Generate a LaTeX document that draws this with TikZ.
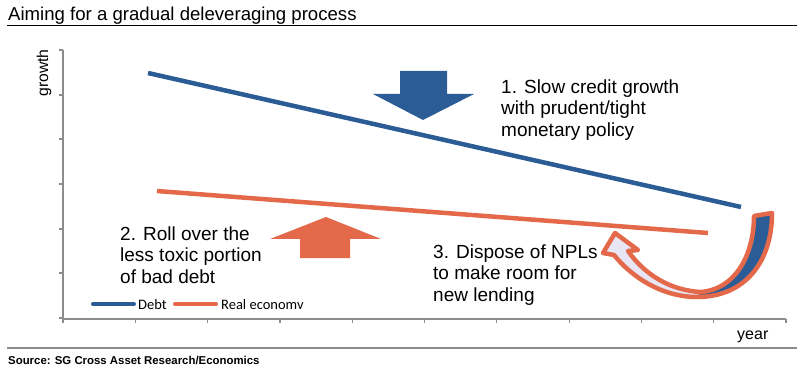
\documentclass[tikz,border=0pt]{standalone}
\usepackage{fontspec}
\setmainfont{Liberation Sans}
\newfontfamily\legendfont{Carlito}
\definecolor{debtblue}{HTML}{2B5C96}
\definecolor{realorange}{HTML}{E3694A}
\definecolor{paleviolet}{HTML}{E8E6F4}
\definecolor{axisgray}{HTML}{8C8C8C}
\begin{document}
\begin{tikzpicture}[x=1pt, y=-1pt,
  series/.style={line width=4.5pt},
  axisline/.style={draw=axisgray, line width=1.2pt},
  note/.style={anchor=north west, align=left, inner sep=0pt, font=\fontsize{19}{21.6}\selectfont},
  legendtext/.style={anchor=base west, inner sep=0pt, font=\legendfont\fontsize{14.5}{16}\selectfont}]
\useasboundingbox (0,0) rectangle (797,371);

\node [anchor=base west, inner sep=0pt, font=\fontsize{18.6}{20}\selectfont] (title) at (8,21) {Aiming for a gradual deleveraging process};
\draw [line width=1.8pt] (7,25.5) -- (797,25.5);

\draw [axisline] (63,50) -- (63,319) -- (786,319);
\foreach \ty in {50,95,139,184,229,273,318}
  \draw [axisline] (59,\ty) -- (63,\ty);
\foreach \k in {0,...,10}
  \draw [axisline] (63+72.3*\k,319) -- (63+72.3*\k,323);
\node [rotate=90, inner sep=0pt, font=\fontsize{15.7}{17}\selectfont] (ylabel) at (44,73) {growth};
\node [anchor=base west, inner sep=0pt, font=\fontsize{16}{18}\selectfont] (xlabel) at (737,339) {year};

\coordinate (debtstart) at (148,73);
\coordinate (debtend) at (741,207);
\coordinate (realstart) at (157,191);
\coordinate (realend) at (708,233);
\draw [series, debtblue] (debtstart) -- (debtend);
\draw [series, realorange] (realstart) -- (realend);

\fill [debtblue] (400,71) -- (447,71) -- (447,94) -- (474,94) -- (423,120) -- (373,94) -- (400,94) -- cycle;
\fill [realorange] (326,217) -- (381,239) -- (350,239) -- (350,258) -- (300,258) -- (300,239) -- (270,239) -- cycle;

\fill [debtblue] (772,213) .. controls (772,262) and (745,297) .. (697,297)
  -- (700,292) .. controls (735,290) and (754,255) .. (754,216) -- cycle;
\fill [paleviolet] (697,297) .. controls (660,297) and (630,275) .. (614,255)
  -- (603,253) -- (615,233) -- (638,250) -- (628,251)
  .. controls (645,275) and (670,290) .. (700,292) -- cycle;
\draw [realorange, line width=4.5pt, line join=round]
  (772,213) .. controls (772,262) and (745,297) .. (697,297)
  .. controls (660,297) and (630,275) .. (614,255)
  -- (603,253) -- (615,233) -- (638,250) -- (628,251)
  .. controls (645,275) and (670,290) .. (700,292)
  .. controls (735,290) and (754,255) .. (754,216) -- cycle;

\node [note] (slowcredit) at (501,79.4) {1. Slow credit growth\\with prudent/tight\\monetary policy};
\node [note] (rollover) at (120,226.4) {2. Roll over the\\less toxic portion\\of bad debt};
\node [note] (dispose) at (433,244.4) {3. Dispose of NPLs\\to make room for\\new lending};

\draw [series, debtblue, line width=4pt, line cap=round] (93,304) -- (134,304);
\node [legendtext] (debtkey) at (138,309) {Debt};
\draw [series, realorange, line width=4pt, line cap=round] (175,304) -- (216,304);
\node [legendtext] (realkey) at (221,309) {Real economv};

\draw [draw=axisgray, line width=1.5pt] (7,348) -- (797,348);
\node [anchor=base west, inner sep=0pt, font=\bfseries\fontsize{11.4}{13}\selectfont] (source) at (8,364) {Source: SG Cross Asset Research/Economics};
\end{tikzpicture}
\end{document}
